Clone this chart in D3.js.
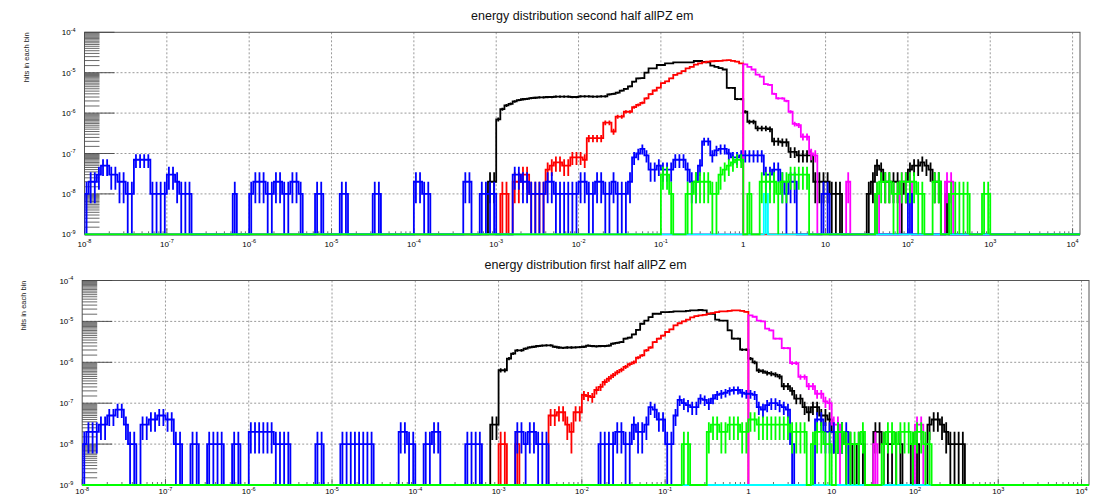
<!DOCTYPE html>
<html><head><meta charset="utf-8">
<script src="https://cdn.jsdelivr.net/npm/d3@7"></script>
<style>
body{margin:0;background:#fff}
svg{display:block}
text{font-family:"Liberation Sans",Arial,Helvetica,sans-serif}
</style>
</head><body>
<svg id="chart" width="1094" height="495"></svg>
<script>
// ---------------- data ----------------
const binsPerDecade = 20;          // log-spaced bins
const xMinExp = -8;                // first bin edge 1e-8
const xMaxExp = 4.09;              // axis end
const hitUnit = 1e-8;              // one hit in each bin
const yTickExps = [-9, -8, -7, -6, -5, -4];
const xTickExps = [-8, -7, -6, -5, -4, -3, -2, -1, 0, 1, 2, 3, 4];
const seriesNames = ["black", "red", "magenta", "blue", "cyan", "green"];
const seriesColors = ["#000000", "#ff0000", "#ff00ff", "#0000ff", "#00ffff", "#00ff00"];
const panelTitles = ["energy distribution second half allPZ em", "energy distribution first half allPZ em"];
const yTitle = "hits in each bin";

// each series: list of [first bin index, hits per bin]
const topBlack = [
  [98, [2,2,70,125,155,170,195,210,220,225,235,240,245,245,250,250,255,255,255,255,
        250,250,260,260,260,255,255,260,260,290,300,320,360,400,460,600,720,730,1000,1280,
        1280,1550,1550,1700,1700,1800,1800,1800,1800,1800,1950,1950,1850,1800,1500,1400,1300,1200,420,420,
        223,223,108,61,61,42,42,42,40,20,20,19,19,11,11,9,9,9,9,2,
        2,2,2,1,1,1]],
  [190, [1,2,5,4,2,2,2,2,1,2,4,5,5,6,5,4,2,2,0,1]]
];
const topRed = [
  [101, [1,1,0,2,2,3,3,1,1,1,1,4,5,6,6,5,5,8,8,8,
         7,24,24,24,24,58,58,35,82,82,108,108,140,159,180,232,295,363,425,550,
         610,727,880,960,1100,1280,1400,1580,1700,1800,1870,1920,1950,1970,2020,2050,1970,1870,1700]]
];
const topMagenta = [
  [160, [1615,1400,1200,900,800,520,500,300,232,232,200,108,54,50,26,26,10,9]],
  [185, [2]], [192, [1]], [198, [2,2,2]], [209, [2,2]]
];
const topBlue = [
  [0, [1,2,2,3,5,5,3,3,2,2,1,1,7,7,7,7,1,1,1,1,3,3,2,1,1,1]],
  [36, [1]],
  [40, [1,2,2,2,1,1,2,2,1,1,2,2,1]],
  [56, [1,1]], [62, [1,1]], [70, [1,1]], [80, [2,2,1,1]], [92, [2,2]], [96, [1,1,1,1]],
  [104, [3,3,2,2,1,1,1,1,2,2,1,1,1,1,1,1,2,2,1,1,2,2,1,1,2,1,1,1,2]],
  [133, [8,10,13,9,4,4,5,4,4,4,7,7,7,4,2,2,5,20,20,9,
         12,13,13,10,8,8,9,9,9,9,9,9,3,3,4,4,2,1,2,2]],
  [179, [1,1]], [200, [1]]
];
const topCyan = [[165, [1]]];
const topGreen = [
  [140, [3,3,1,0,0,0,1,1,2,2,2,2,1,1,3,4,5,6,7,7,0,1,0,0,2,2,2,2,1,2,2,3,3,3,3,3]],
  [192, [1,2,2,2,1,1,2,2,2,2,1,1,0,0,2,2,0,0,1,1,1,1,1,0,0,0,1,1]]
];

const bottomBlack = [
  [98, [3,3,64,64,123,163,196,196,215,233,240,250,255,260,260,240,230,225,230,230,
        233,235,240,255,250,245,250,250,255,286,300,313,378,400,480,620,875,1050,1270,1540,
        1540,1690,1690,1700,1750,1750,1750,1800,1860,1860,1900,1850,1540,1540,1100,1050,1050,605,378,378,
        204,204,123,100,63,60,55,53,50,45,26,26,20,13,13,8,6,8,8,5,
        5,4,2,2,2,1,1,0,1,1,0,0,2,2,1,1,1,1,1,0,
        0,1,1,0,0,3,4,4,3,2,1,1,1,1]]
];
const bottomRed = [
  [100, [1,1,0,0,1]],
  [112, [5,5,6,6,3,2,6,6,16,15,14,21,25,33,40,48,57,65,77,90,
         100,130,148,196,230,313,380,450,550,640,800,900,1000,1100,1250,1350,1400,1450,1550,1600,
         1690,1750,1750,1800,1860,1860,1800,1700]]
];
const bottomMagenta = [
  [160, [1400,1300,1050,1000,665,600,378,378,223,223,96,96,44,44,26,26,17,17,11,10,3,3]],
  [190, [1]], [200, [3,3]]
];
const bottomBlue = [
  [0, [1,2,2,2,3,3,5,5,7,7,3,1,1,0,3,3,4,4,5,5,4,4,1,1]],
  [26, [1,1]], [30, [1,1,1,1]], [36, [1,1]], [40, [2,2,2,2,2,2,1,1,1,1]],
  [56, [1,1]], [62, [1,1,1,1,1,1,1,1]], [76, [2,2,1,1]], [82, [1,1,2,2]], [92, [1,1,1,1]],
  [104, [2,2,1,2,2,1,1,1]],
  [124, [1,1,1,1,2,2,1,1,3,2,2,3,8,7,4,4,1,1,5,12,
         10,9,8,8,13,12,10,13,16,17,18,20,21,21,18,17,17,16,8,7,
         9,10,10,9,8,7,1]],
  [176, [4,4,2,2,2,2,2,2]]
];
const bottomCyan = [];
const bottomGreen = [
  [144, [1,1]],
  [150, [2,3,3,2,2,3,3,3,2,2,4,4,3,3,3,3,3,3,3,3,2,2,2,2]],
  [175, [1,2,2,1,1,0,2,2,1,1,1,1,2,0,0,0,0,1,2,2,1,2,2,2,1,2,2,1,1]]
];

// ---------------- layout ----------------
const panels = [
  { title: panelTitles[0], series: [topBlack, topRed, topMagenta, topBlue, topCyan, topGreen],
    left: 84.5, right: 1080, top: 32.3, bottom: 234.3, titleY: 19.5, yTitleX: 28.5, xLabelY: 246.5 },
  { title: panelTitles[1], series: [bottomBlack, bottomRed, bottomMagenta, bottomBlue, bottomCyan, bottomGreen],
    left: 82.2, right: 1089, top: 280.5, bottom: 485, titleY: 268.5, yTitleX: 25.5, xLabelY: 494.2 }
];

const svg = d3.select("#chart");
const nBins = Math.ceil((xMaxExp - xMinExp) * binsPerDecade);
const edge = i => Math.pow(10, xMinExp + i / binsPerDecade);
const centre = i => Math.pow(10, xMinExp + (i + 0.5) / binsPerDecade);

function expandBins(segs) {
  const a = new Array(nBins).fill(0);
  segs.forEach(([s, vals]) => vals.forEach((v, k) => { a[s + k] = v; }));
  return a;
}

function sup(sel, base, exp) {
  sel.append("tspan").text(base);
  sel.append("tspan").attr("dy", -3.5).attr("font-size", "5.5px").text(exp);
}

panels.forEach((p, pi) => {
  const x = d3.scaleLog().domain([Math.pow(10, xMinExp), Math.pow(10, xMaxExp)]).range([p.left, p.right]);
  const y = d3.scaleLog().domain([1e-9, 1e-4]).range([p.bottom, p.top]);
  const g = svg.append("g");

  // grid
  const gridColor = "#808080";
  xTickExps.filter(e => e > xMinExp).forEach(e => {
    g.append("line").attr("x1", x(Math.pow(10, e))).attr("x2", x(Math.pow(10, e)))
      .attr("y1", p.top).attr("y2", p.bottom)
      .attr("stroke", gridColor).attr("stroke-width", 0.8).attr("stroke-dasharray", "2,2");
  });
  yTickExps.filter(e => e > -9 && e < -4).forEach(e => {
    g.append("line").attr("x1", p.left).attr("x2", p.right)
      .attr("y1", y(Math.pow(10, e))).attr("y2", y(Math.pow(10, e)))
      .attr("stroke", gridColor).attr("stroke-width", 0.8).attr("stroke-dasharray", "2,2");
  });

  // frame (drawn beneath the histograms)
  g.append("rect").attr("x", p.left).attr("y", p.top).attr("width", p.right - p.left).attr("height", p.bottom - p.top)
    .attr("fill", "none").attr("stroke", "#555").attr("stroke-width", 1);

  // y ticks
  const tickColor = "#444";
  yTickExps.forEach(e => {
    const yy = y(Math.pow(10, e));
    g.append("line").attr("x1", p.left).attr("x2", p.left + 30).attr("y1", yy).attr("y2", yy)
      .attr("stroke", tickColor).attr("stroke-width", 0.9);
    if (e < -4) {
      for (let k = 1.5; k < 10; k += 0.5) {
        const yk = y(k * Math.pow(10, e));
        g.append("line").attr("x1", p.left).attr("x2", p.left + 15).attr("y1", yk).attr("y2", yk)
          .attr("stroke", tickColor).attr("stroke-width", 0.8);
      }
    }
    const t = g.append("text").attr("x", p.left - 9).attr("y", yy + 3)
      .attr("text-anchor", "end").attr("font-size", "8px").attr("fill", "#000");
    sup(t, "10", String(e));
  });

  // x ticks
  xTickExps.forEach(e => {
    const xx = x(Math.pow(10, e));
    g.append("line").attr("x1", xx).attr("x2", xx).attr("y1", p.bottom).attr("y2", p.bottom - 6)
      .attr("stroke", tickColor).attr("stroke-width", 0.8);
    if (e < 4) {
      for (let k = 2; k < 10; k++) {
        const xk = x(k * Math.pow(10, e));
        g.append("line").attr("x1", xk).attr("x2", xk).attr("y1", p.bottom).attr("y2", p.bottom - 3)
          .attr("stroke", tickColor).attr("stroke-width", 0.8);
      }
    }
    const t = g.append("text").attr("x", xx).attr("y", p.xLabelY)
      .attr("text-anchor", "middle").attr("font-size", "8px").attr("fill", "#000");
    if (e === 0) t.text("1");
    else if (e === 1) t.text("10");
    else sup(t, "10", String(e));
  });

  // clip
  const clipId = "clip" + pi;
  svg.append("clipPath").attr("id", clipId).append("rect")
    .attr("x", p.left).attr("y", p.top - 2).attr("width", p.right - p.left).attr("height", p.bottom - p.top + 4);

  const hg = g.append("g").attr("clip-path", `url(#${clipId})`);
  const yv = c => c > 0 ? y(c * hitUnit) : p.bottom;

  p.series.forEach((segs, si) => {
    const counts = expandBins(segs);
    const color = seriesColors[si];
    let d = `M${x(edge(0))},${p.bottom}V${yv(counts[0])}`;
    for (let i = 0; i < nBins; i++) {
      d += `H${x(edge(i + 1))}`;
      const next = i + 1 < nBins ? counts[i + 1] : 0;
      d += `V${yv(next)}`;
    }
    hg.append("path").attr("d", d).attr("fill", "none").attr("stroke", color)
      .attr("stroke-width", 1.8).attr("stroke-linejoin", "miter");
    counts.forEach((c, i) => {
      if (c <= 0) return;
      const err = Math.sqrt(c);
      const xc = x(centre(i));
      hg.append("line").attr("x1", xc).attr("x2", xc)
        .attr("y1", yv(c + err)).attr("y2", c - err > 0 ? yv(c - err) : p.bottom)
        .attr("stroke", color).attr("stroke-width", 1.8);
    });
  });

  // titles
  g.append("text").attr("x", (p.left + p.right) / 2).attr("y", p.titleY)
    .attr("text-anchor", "middle").attr("font-size", "12.5px").attr("fill", "#111").text(p.title);
  g.append("text").attr("transform", `translate(${p.yTitleX},${p.top}) rotate(-90)`)
    .attr("text-anchor", "end").attr("font-size", "7.5px").attr("fill", "#222").text(yTitle);
});
</script>
</body></html>
